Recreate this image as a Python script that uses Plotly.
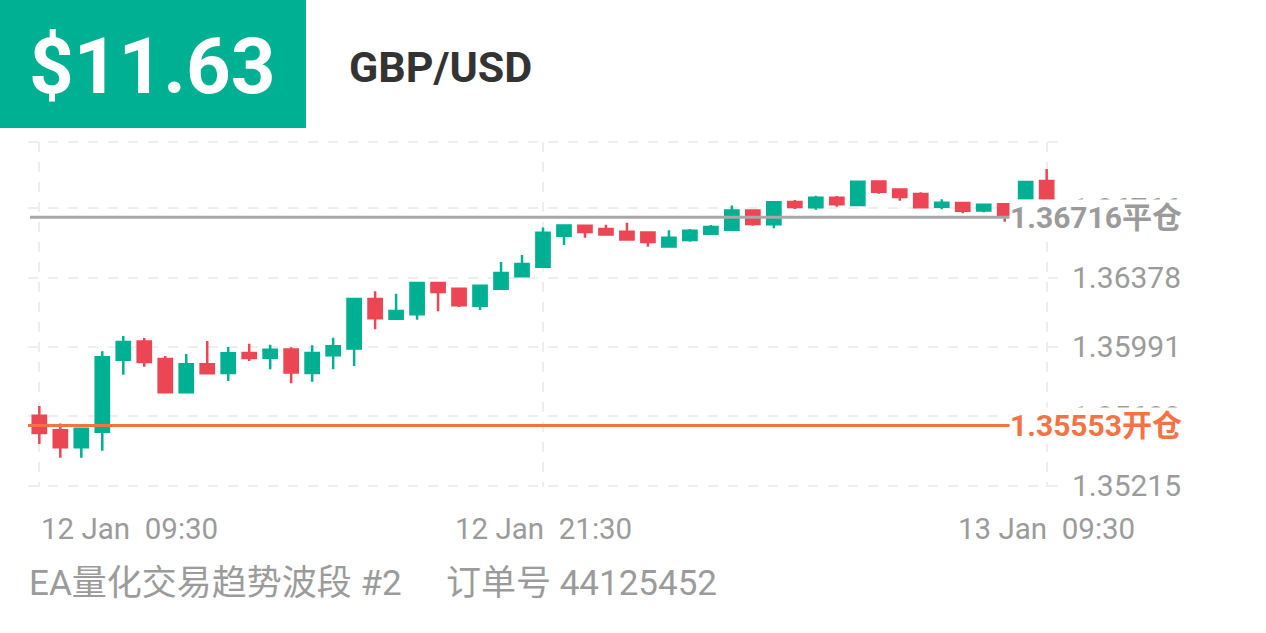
import pandas as pd
import plotly.graph_objects as go

# ---------------- data ----------------
symbol = "GBP/USD"
profit_text = "$11.63"
strategy_text = "EA量化交易趋势波段 #2"
order_text = "订单号 44125452"
open_price = 1.35553
close_price = 1.36716

times = pd.date_range("2025-01-12 09:30", periods=49, freq="30min")

opens = [1.35607, 1.35526, 1.35431, 1.35518, 1.35920, 1.36021, 1.35924, 1.35738, 1.35894, 1.35846,
         1.35958, 1.35931, 1.35977, 1.35846, 1.35945, 1.35982, 1.36259, 1.36149, 1.36174, 1.36348,
         1.36317, 1.36222, 1.36317, 1.36386, 1.36439, 1.36612, 1.36668, 1.36650, 1.36635, 1.36631,
         1.36553, 1.36588, 1.36624, 1.36646, 1.36754, 1.36676, 1.36801, 1.36771, 1.36825, 1.36784,
         1.36916, 1.36871, 1.36845, 1.36774, 1.36795, 1.36754, 1.36789, 1.36821, 1.36918]
highs = [1.35662, 1.35563, 1.35540, 1.35967, 1.36052, 1.36041, 1.35941, 1.35952, 1.36024, 1.35991,
         1.36009, 1.36004, 1.35989, 1.36001, 1.36043, 1.36262, 1.36302, 1.36289, 1.36348, 1.36356,
         1.36319, 1.36337, 1.36466, 1.36505, 1.36659, 1.36672, 1.36668, 1.36674, 1.36685, 1.36631,
         1.36643, 1.36650, 1.36672, 1.36782, 1.36754, 1.36799, 1.36812, 1.36836, 1.36834, 1.36916,
         1.36918, 1.36873, 1.36856, 1.36816, 1.36801, 1.36793, 1.36791, 1.36914, 1.36985]
lows = [1.35449, 1.35373, 1.35373, 1.35412, 1.35836, 1.35881, 1.35738, 1.35738, 1.35844, 1.35801,
        1.35913, 1.35866, 1.35788, 1.35797, 1.35866, 1.35885, 1.36090, 1.36149, 1.36143, 1.36190,
        1.36214, 1.36198, 1.36317, 1.36386, 1.36436, 1.36560, 1.36601, 1.36612, 1.36592, 1.36551,
        1.36553, 1.36579, 1.36620, 1.36646, 1.36668, 1.36654, 1.36762, 1.36758, 1.36774, 1.36784,
        1.36847, 1.36808, 1.36771, 1.36760, 1.36738, 1.36743, 1.36691, 1.36821, 1.36821]
closes = [1.35511, 1.35431, 1.35535, 1.35934, 1.36019, 1.35907, 1.35738, 1.35894, 1.35844, 1.35956,
          1.35930, 1.35976, 1.35848, 1.35958, 1.35995, 1.36259, 1.36151, 1.36192, 1.36348, 1.36298,
          1.36224, 1.36333, 1.36404, 1.36454, 1.36629, 1.36670, 1.36633, 1.36620, 1.36592, 1.36577,
          1.36601, 1.36640, 1.36661, 1.36754, 1.36678, 1.36799, 1.36773, 1.36825, 1.36788, 1.36914,
          1.36858, 1.36829, 1.36771, 1.36797, 1.36752, 1.36786, 1.36730, 1.36912, 1.36821]

ytick_vals = [1.35215, 1.35603, 1.35991, 1.36378, 1.36766]
xtick_idx = [0, 24, 48]
xtick_text = ["12 Jan\u00a0\u00a009:30", "12 Jan\u00a0\u00a021:30", "13 Jan\u00a0\u00a009:30"]

# ---------------- style ----------------
GREEN = "#00B092"
RED = "#EC4654"
ORANGE = "#F47244"
GRAY_LINE = "#A8A8A8"
GRAY_TXT = "#9B9B9B"
GRID = "#EEEEEE"
FONT = "Roboto, 'Noto Sans CJK SC', sans-serif"

W, H = 1266, 633
ML, MR, MT, MB = 28, 208, 142, 146
PW, PH = W - ML - MR, H - MT - MB


def px(x):
    return (x - ML) / PW


def py(y):
    return (H - MB - y) / PH


half = pd.Timedelta(minutes=16.2)

fig = go.Figure()
fig.add_trace(go.Candlestick(
    x=times, open=opens, high=highs, low=lows, close=closes,
    increasing=dict(line=dict(color=GREEN, width=2.5), fillcolor=GREEN),
    decreasing=dict(line=dict(color=RED, width=2.5), fillcolor=RED),
    whiskerwidth=0, hoverinfo="skip",
))

shapes = [
    # top dashed border
    dict(type="line", xref="paper", yref="paper", x0=0, x1=1, y0=1, y1=1,
         line=dict(color=GRID, width=2, dash="10px,10px"), layer="below"),
    # close line
    dict(type="line", xref="paper", yref="y", x0=px(30), x1=px(1016), y0=close_price, y1=close_price,
         line=dict(color=GRAY_LINE, width=3), layer="above"),
    # open line
    dict(type="line", xref="paper", yref="y", x0=0, x1=px(1016), y0=open_price, y1=open_price,
         line=dict(color=ORANGE, width=3), layer="above"),
    # header box
    dict(type="rect", xref="paper", yref="paper", x0=px(0), x1=px(306), y0=py(128), y1=py(0),
         fillcolor=GREEN, line=dict(width=0), layer="above"),
]

annotations = [
    dict(xref="paper", yref="paper", x=px(27), y=py(67), xanchor="left", yanchor="middle",
         text=profit_text, showarrow=False, font=dict(family=FONT, size=78, color="white", weight="bold")),
    dict(xref="paper", yref="paper", x=px(347), y=py(67), xanchor="left", yanchor="middle",
         text=symbol, showarrow=False, font=dict(family=FONT, size=43, color="#333333", weight="bold")),
    dict(xref="paper", yref="y", x=px(1183), y=close_price, xanchor="right", yanchor="middle",
         text=f"{close_price:.5f}平仓", showarrow=False, bgcolor="white", borderpad=0,
         font=dict(family=FONT, size=30, color=GRAY_TXT, weight="bold")),
    dict(xref="paper", yref="y", x=px(1183), y=open_price, xanchor="right", yanchor="middle",
         text=f"{open_price:.5f}开仓", showarrow=False, bgcolor="white", borderpad=0,
         font=dict(family=FONT, size=30, color=ORANGE, weight="bold")),
    dict(xref="paper", yref="paper", x=px(27), y=py(583), xanchor="left", yanchor="middle",
         text=strategy_text, showarrow=False, font=dict(family=FONT, size=35, color=GRAY_TXT)),
    dict(xref="paper", yref="paper", x=px(444), y=py(583), xanchor="left", yanchor="middle",
         text=order_text, showarrow=False, font=dict(family=FONT, size=35, color=GRAY_TXT)),
]
for i, (k, t) in enumerate(zip(xtick_idx, xtick_text)):
    annotations.append(dict(
        xref="x", yref="paper", x=times[k], y=py(529), xanchor="left" if i == 0 else "center",
        yanchor="middle", text=t, showarrow=False,
        font=dict(family=FONT, size=29.5, color=GRAY_TXT)))

fig.update_layout(
    width=W, height=H, margin=dict(l=ML, r=MR, t=MT, b=MB),
    paper_bgcolor="white", plot_bgcolor="white", showlegend=False,
    boxgap=0.1, boxgroupgap=0.3,
    shapes=shapes, annotations=annotations,
    xaxis=dict(range=[times[0] - half, times[-1] + half], rangeslider=dict(visible=False),
               tickvals=[times[k] for k in xtick_idx], showticklabels=False,
               showgrid=True, gridcolor=GRID, gridwidth=2, griddash="10px,10px",
               zeroline=False, showline=False, ticks=""),
    yaxis=dict(range=[1.35209, 1.37136], side="right", tickvals=ytick_vals,
               ticktext=[f"{v:.5f}" for v in ytick_vals],
               tickfont=dict(family=FONT, size=30, color=GRAY_TXT),
               showgrid=True, gridcolor=GRID, gridwidth=2, griddash="10px,10px",
               zeroline=False, showline=False, ticks="", ticklabelstandoff=13),
)

fig.write_html("out.html", post_script="document.body.style.margin='0';",
               config={"displayModeBar": False})
